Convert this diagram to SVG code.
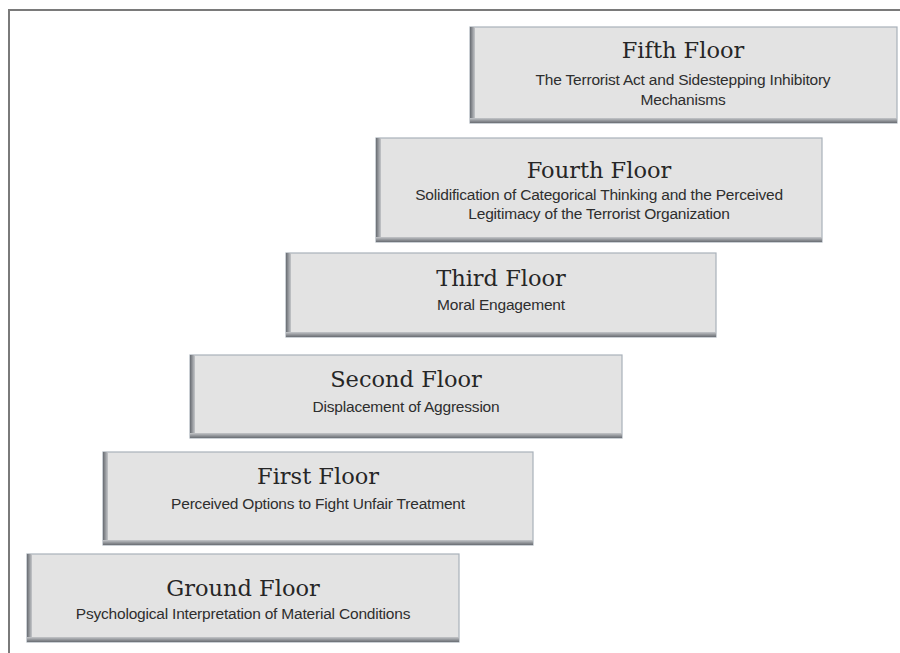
<svg xmlns="http://www.w3.org/2000/svg" width="900" height="653" viewBox="0 0 900 653">
<defs>
<linearGradient id="lg" x1="0" y1="0" x2="1" y2="0">
<stop offset="0" stop-color="#686c72"/><stop offset="1" stop-color="#c4c6c9"/>
</linearGradient>
<linearGradient id="bg" x1="0" y1="0" x2="0" y2="1">
<stop offset="0" stop-color="#c4c6c9"/><stop offset="1" stop-color="#686c72"/>
</linearGradient>
<style>
.box{fill:#e3e3e3;stroke:#a9b1ba;stroke-width:1.2}
.t{font-family:"DejaVu Serif","Liberation Serif",serif;font-size:22.5px;fill:#262626;text-anchor:middle}
.s{font-family:"Liberation Sans","Arial",sans-serif;font-size:15.5px;fill:#2e2e2e;text-anchor:middle;letter-spacing:-0.2px}
.fr{stroke:#7a7a7a;stroke-width:2;fill:none}
</style>
</defs>
<rect width="900" height="653" fill="#ffffff"/>
<path class="fr" d="M9,653 V10 H900"/>
<g id="fifth">
<rect class="box" x="470" y="27" width="427" height="96"/>
<rect x="470" y="27" width="5" height="96" fill="url(#lg)"/>
<rect x="470" y="118" width="427" height="5" fill="url(#bg)"/>
<text class="t" x="683" y="58">Fifth Floor</text>
<text class="s" x="683" y="85">The Terrorist Act and Sidestepping Inhibitory</text>
<text class="s" x="683" y="105">Mechanisms</text>
</g>
<g id="fourth">
<rect class="box" x="376" y="138" width="446" height="104"/>
<rect x="376" y="138" width="5" height="104" fill="url(#lg)"/>
<rect x="376" y="237" width="446" height="5" fill="url(#bg)"/>
<text class="t" x="599" y="178">Fourth Floor</text>
<text class="s" x="599" y="200">Solidification of Categorical Thinking and the Perceived</text>
<text class="s" x="599" y="219">Legitimacy of the Terrorist Organization</text>
</g>
<g id="third">
<rect class="box" x="286" y="253" width="430" height="84"/>
<rect x="286" y="253" width="5" height="84" fill="url(#lg)"/>
<rect x="286" y="332" width="430" height="5" fill="url(#bg)"/>
<text class="t" x="501" y="286">Third Floor</text>
<text class="s" x="501" y="310">Moral Engagement</text>
</g>
<g id="second">
<rect class="box" x="190" y="355" width="432" height="83"/>
<rect x="190" y="355" width="5" height="83" fill="url(#lg)"/>
<rect x="190" y="433" width="432" height="5" fill="url(#bg)"/>
<text class="t" x="406" y="387">Second Floor</text>
<text class="s" x="406" y="412">Displacement of Aggression</text>
</g>
<g id="first">
<rect class="box" x="103" y="452" width="430" height="93"/>
<rect x="103" y="452" width="5" height="93" fill="url(#lg)"/>
<rect x="103" y="540" width="430" height="5" fill="url(#bg)"/>
<text class="t" x="318" y="484">First Floor</text>
<text class="s" x="318" y="509">Perceived Options to Fight Unfair Treatment</text>
</g>
<g id="ground">
<rect class="box" x="27" y="554" width="432" height="88"/>
<rect x="27" y="554" width="5" height="88" fill="url(#lg)"/>
<rect x="27" y="637" width="432" height="5" fill="url(#bg)"/>
<text class="t" x="243" y="596">Ground Floor</text>
<text class="s" x="243" y="619">Psychological Interpretation of Material Conditions</text>
</g>
</svg>
